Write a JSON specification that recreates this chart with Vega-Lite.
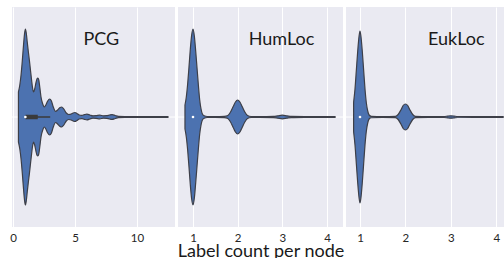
{
  "$schema": "https://vega.github.io/schema/vega-lite/v6.json",
  "padding": {"left": 9, "top": 7, "right": 0, "bottom": 0},
  "background": "white",
  "spacing": 1,
  "config": {
    "view": {"fill": "#EAEAF2", "stroke": null},
    "font": "Lato",
    "axis": {
      "grid": true, "gridColor": "white", "gridWidth": 1, "domain": false, "ticks": false,
      "labelFontSize": 11.5, "labelColor": "#262626", "labelPadding": 5, "labelFlush": false,
      "titleFontSize": 18, "titleColor": "#1a1a1a", "titleFontWeight": "normal", "titlePadding": -1
    }
  },
  "datasets": {
    "one": [{}],
    "violin": [
      {"d": "PCG", "x": 0.44, "h": 25}, {"d": "PCG", "x": 0.55, "h": 32}, {"d": "PCG", "x": 0.65, "h": 42},
      {"d": "PCG", "x": 0.75, "h": 56}, {"d": "PCG", "x": 0.85, "h": 72}, {"d": "PCG", "x": 0.93, "h": 83},
      {"d": "PCG", "x": 1.0, "h": 88}, {"d": "PCG", "x": 1.07, "h": 84}, {"d": "PCG", "x": 1.15, "h": 75},
      {"d": "PCG", "x": 1.25, "h": 64}, {"d": "PCG", "x": 1.32, "h": 57}, {"d": "PCG", "x": 1.4, "h": 48},
      {"d": "PCG", "x": 1.5, "h": 37}, {"d": "PCG", "x": 1.58, "h": 29}, {"d": "PCG", "x": 1.66, "h": 25},
      {"d": "PCG", "x": 1.75, "h": 28}, {"d": "PCG", "x": 1.85, "h": 34}, {"d": "PCG", "x": 1.95, "h": 38.5},
      {"d": "PCG", "x": 2.0, "h": 39}, {"d": "PCG", "x": 2.08, "h": 37}, {"d": "PCG", "x": 2.17, "h": 29},
      {"d": "PCG", "x": 2.26, "h": 20}, {"d": "PCG", "x": 2.4, "h": 13}, {"d": "PCG", "x": 2.53, "h": 10},
      {"d": "PCG", "x": 2.65, "h": 12}, {"d": "PCG", "x": 2.8, "h": 16}, {"d": "PCG", "x": 2.96, "h": 18},
      {"d": "PCG", "x": 3.1, "h": 16}, {"d": "PCG", "x": 3.25, "h": 10}, {"d": "PCG", "x": 3.44, "h": 5.5},
      {"d": "PCG", "x": 3.6, "h": 7}, {"d": "PCG", "x": 3.8, "h": 9.5}, {"d": "PCG", "x": 3.93, "h": 10},
      {"d": "PCG", "x": 4.1, "h": 8}, {"d": "PCG", "x": 4.3, "h": 4}, {"d": "PCG", "x": 4.5, "h": 2.5},
      {"d": "PCG", "x": 4.7, "h": 3}, {"d": "PCG", "x": 4.85, "h": 4}, {"d": "PCG", "x": 5.0, "h": 4.5},
      {"d": "PCG", "x": 5.15, "h": 3.5}, {"d": "PCG", "x": 5.35, "h": 2}, {"d": "PCG", "x": 5.55, "h": 1.7},
      {"d": "PCG", "x": 5.75, "h": 2.3}, {"d": "PCG", "x": 5.97, "h": 2.8}, {"d": "PCG", "x": 6.2, "h": 2},
      {"d": "PCG", "x": 6.45, "h": 1.2}, {"d": "PCG", "x": 6.7, "h": 1.3}, {"d": "PCG", "x": 7.0, "h": 1.8},
      {"d": "PCG", "x": 7.3, "h": 1.2}, {"d": "PCG", "x": 7.55, "h": 1.3}, {"d": "PCG", "x": 7.8, "h": 2},
      {"d": "PCG", "x": 8.0, "h": 2.3}, {"d": "PCG", "x": 8.25, "h": 1.5}, {"d": "PCG", "x": 8.5, "h": 0.7},
      {"d": "PCG", "x": 9.0, "h": 0.5}, {"d": "PCG", "x": 10.0, "h": 0.4}, {"d": "PCG", "x": 11.0, "h": 0.4},
      {"d": "PCG", "x": 12.0, "h": 0.4}, {"d": "PCG", "x": 12.5, "h": 0.3},

      {"d": "HumLoc", "x": 0.82, "h": 12}, {"d": "HumLoc", "x": 0.85, "h": 20}, {"d": "HumLoc", "x": 0.88, "h": 33},
      {"d": "HumLoc", "x": 0.91, "h": 50}, {"d": "HumLoc", "x": 0.94, "h": 68}, {"d": "HumLoc", "x": 0.97, "h": 82},
      {"d": "HumLoc", "x": 1.0, "h": 88}, {"d": "HumLoc", "x": 1.03, "h": 81}, {"d": "HumLoc", "x": 1.06, "h": 66},
      {"d": "HumLoc", "x": 1.09, "h": 49}, {"d": "HumLoc", "x": 1.12, "h": 32}, {"d": "HumLoc", "x": 1.15, "h": 17},
      {"d": "HumLoc", "x": 1.18, "h": 8}, {"d": "HumLoc", "x": 1.21, "h": 3}, {"d": "HumLoc", "x": 1.25, "h": 1.2},
      {"d": "HumLoc", "x": 1.32, "h": 0.5}, {"d": "HumLoc", "x": 1.5, "h": 0.4}, {"d": "HumLoc", "x": 1.7, "h": 0.6},
      {"d": "HumLoc", "x": 1.78, "h": 1.5}, {"d": "HumLoc", "x": 1.84, "h": 5}, {"d": "HumLoc", "x": 1.9, "h": 10.5},
      {"d": "HumLoc", "x": 1.95, "h": 15}, {"d": "HumLoc", "x": 2.0, "h": 17}, {"d": "HumLoc", "x": 2.05, "h": 15},
      {"d": "HumLoc", "x": 2.1, "h": 10.5}, {"d": "HumLoc", "x": 2.16, "h": 5}, {"d": "HumLoc", "x": 2.22, "h": 1.5},
      {"d": "HumLoc", "x": 2.3, "h": 0.5}, {"d": "HumLoc", "x": 2.5, "h": 0.4}, {"d": "HumLoc", "x": 2.8, "h": 0.6},
      {"d": "HumLoc", "x": 2.9, "h": 1.2}, {"d": "HumLoc", "x": 3.0, "h": 1.8}, {"d": "HumLoc", "x": 3.1, "h": 1.2},
      {"d": "HumLoc", "x": 3.2, "h": 0.6}, {"d": "HumLoc", "x": 3.5, "h": 0.4}, {"d": "HumLoc", "x": 4.18, "h": 0.3},

      {"d": "EukLoc", "x": 0.86, "h": 15}, {"d": "EukLoc", "x": 0.89, "h": 28}, {"d": "EukLoc", "x": 0.92, "h": 47},
      {"d": "EukLoc", "x": 0.95, "h": 66}, {"d": "EukLoc", "x": 0.98, "h": 81}, {"d": "EukLoc", "x": 1.0, "h": 86},
      {"d": "EukLoc", "x": 1.02, "h": 81}, {"d": "EukLoc", "x": 1.05, "h": 66}, {"d": "EukLoc", "x": 1.08, "h": 47},
      {"d": "EukLoc", "x": 1.11, "h": 28}, {"d": "EukLoc", "x": 1.14, "h": 14}, {"d": "EukLoc", "x": 1.17, "h": 6},
      {"d": "EukLoc", "x": 1.2, "h": 2}, {"d": "EukLoc", "x": 1.25, "h": 0.6}, {"d": "EukLoc", "x": 1.5, "h": 0.4},
      {"d": "EukLoc", "x": 1.78, "h": 0.6}, {"d": "EukLoc", "x": 1.84, "h": 2.5}, {"d": "EukLoc", "x": 1.9, "h": 7},
      {"d": "EukLoc", "x": 1.95, "h": 11.5}, {"d": "EukLoc", "x": 2.0, "h": 13}, {"d": "EukLoc", "x": 2.05, "h": 11.5},
      {"d": "EukLoc", "x": 2.1, "h": 7}, {"d": "EukLoc", "x": 2.16, "h": 2.5}, {"d": "EukLoc", "x": 2.22, "h": 0.6},
      {"d": "EukLoc", "x": 2.5, "h": 0.4}, {"d": "EukLoc", "x": 2.85, "h": 0.5}, {"d": "EukLoc", "x": 2.93, "h": 0.9},
      {"d": "EukLoc", "x": 3.0, "h": 1.2}, {"d": "EukLoc", "x": 3.07, "h": 0.9}, {"d": "EukLoc", "x": 3.15, "h": 0.5},
      {"d": "EukLoc", "x": 3.5, "h": 0.4}, {"d": "EukLoc", "x": 4.15, "h": 0.3}
    ],
    "box": [
      {"d": "PCG", "lo": 1, "q1": 1, "med": 1, "q3": 2, "hi": 3},
      {"d": "HumLoc", "lo": 1, "q1": 1, "med": 1, "q3": 1, "hi": 1},
      {"d": "EukLoc", "lo": 1, "q1": 1, "med": 1, "q3": 1, "hi": 1}
    ]
  },
  "hconcat": [
    {
      "width": 163, "height": 220,
      "layer": [
        {"data": {"name": "one"}, "mark": {"type": "rule", "color": "white", "strokeWidth": 1},
         "encoding": {"y": {"datum": 44, "type": "quantitative", "scale": {"domain": [-11, 99], "nice": false, "zero": false}, "axis": null}}},
        {"data": {"name": "violin"}, "transform": [{"filter": "datum.d === 'PCG'"}],
         "mark": {"type": "area", "interpolate": "monotone", "fill": "#4C72B0", "fillOpacity": 1, "stroke": "#3d3f48", "strokeWidth": 1.2},
         "encoding": {
           "x": {"field": "x", "type": "quantitative", "scale": {"domain": [-0.08, 13.07], "nice": false, "zero": false}, "axis": {"values": [0, 5, 10], "title": null}},
           "y": {"field": "h", "type": "quantitative", "stack": "center", "scale": {"domain": [-11, 99], "nice": false, "zero": false}, "axis": null}
         }},
        {"data": {"name": "box"}, "transform": [{"filter": "datum.d === 'PCG'"}],
         "mark": {"type": "rule", "color": "#3a3a3a", "strokeWidth": 1.5},
         "encoding": {"x": {"field": "lo", "type": "quantitative"}, "x2": {"field": "hi"}, "y": {"datum": 44, "type": "quantitative"}}},
        {"data": {"name": "box"}, "transform": [{"filter": "datum.d === 'PCG'"}],
         "mark": {"type": "rule", "color": "#3a3a3a", "strokeWidth": 4.5},
         "encoding": {"x": {"field": "q1", "type": "quantitative"}, "x2": {"field": "q3"}, "y": {"datum": 44, "type": "quantitative"}}},
        {"data": {"name": "box"}, "transform": [{"filter": "datum.d === 'PCG'"}],
         "mark": {"type": "circle", "color": "white", "size": 7, "opacity": 1},
         "encoding": {"x": {"field": "med", "type": "quantitative"}, "y": {"datum": 44, "type": "quantitative"}}},
        {"data": {"name": "one"}, "mark": {"type": "text", "text": "PCG", "fontSize": 18, "color": "#1a1a1a", "baseline": "middle", "align": "center"},
         "encoding": {"x": {"datum": 7.12, "type": "quantitative"}, "y": {"datum": 82.5, "type": "quantitative"}}}
      ]
    },
    {
      "width": 165, "height": 220,
      "layer": [
        {"data": {"name": "one"}, "mark": {"type": "rule", "color": "white", "strokeWidth": 1},
         "encoding": {"y": {"datum": 44, "type": "quantitative", "scale": {"domain": [-11, 99], "nice": false, "zero": false}, "axis": null}}},
        {"data": {"name": "violin"}, "transform": [{"filter": "datum.d === 'HumLoc'"}],
         "mark": {"type": "area", "interpolate": "monotone", "fill": "#4C72B0", "fillOpacity": 1, "stroke": "#3d3f48", "strokeWidth": 1.2},
         "encoding": {
           "x": {"field": "x", "type": "quantitative", "scale": {"domain": [0.664, 4.358], "nice": false, "zero": false}, "axis": {"values": [1, 2, 3, 4], "title": "Label count per node"}},
           "y": {"field": "h", "type": "quantitative", "stack": "center", "scale": {"domain": [-11, 99], "nice": false, "zero": false}, "axis": null}
         }},
        {"data": {"name": "box"}, "transform": [{"filter": "datum.d === 'HumLoc'"}],
         "mark": {"type": "circle", "color": "white", "size": 7, "opacity": 1},
         "encoding": {"x": {"field": "med", "type": "quantitative"}, "y": {"datum": 44, "type": "quantitative"}}},
        {"data": {"name": "one"}, "mark": {"type": "text", "text": "HumLoc", "fontSize": 18, "color": "#1a1a1a", "baseline": "middle", "align": "center"},
         "encoding": {"x": {"datum": 2.98, "type": "quantitative"}, "y": {"datum": 82.5, "type": "quantitative"}}}
      ]
    },
    {
      "width": 162, "height": 220,
      "layer": [
        {"data": {"name": "one"}, "mark": {"type": "rule", "color": "white", "strokeWidth": 1},
         "encoding": {"y": {"datum": 43, "type": "quantitative", "scale": {"domain": [-12, 98], "nice": false, "zero": false}, "axis": null}}},
        {"data": {"name": "violin"}, "transform": [{"filter": "datum.d === 'EukLoc'"}],
         "mark": {"type": "area", "interpolate": "monotone", "fill": "#4C72B0", "fillOpacity": 1, "stroke": "#3d3f48", "strokeWidth": 1.2},
         "encoding": {
           "x": {"field": "x", "type": "quantitative", "scale": {"domain": [0.692, 4.257], "nice": false, "zero": false}, "axis": {"values": [1, 2, 3, 4], "title": null}},
           "y": {"field": "h", "type": "quantitative", "stack": "center", "scale": {"domain": [-12, 98], "nice": false, "zero": false}, "axis": null}
         }},
        {"data": {"name": "box"}, "transform": [{"filter": "datum.d === 'EukLoc'"}],
         "mark": {"type": "circle", "color": "white", "size": 7, "opacity": 1},
         "encoding": {"x": {"field": "med", "type": "quantitative"}, "y": {"datum": 43, "type": "quantitative"}}},
        {"data": {"name": "one"}, "mark": {"type": "text", "text": "EukLoc", "fontSize": 18, "color": "#1a1a1a", "baseline": "middle", "align": "center"},
         "encoding": {"x": {"datum": 3.12, "type": "quantitative"}, "y": {"datum": 81.5, "type": "quantitative"}}}
      ]
    }
  ]
}
